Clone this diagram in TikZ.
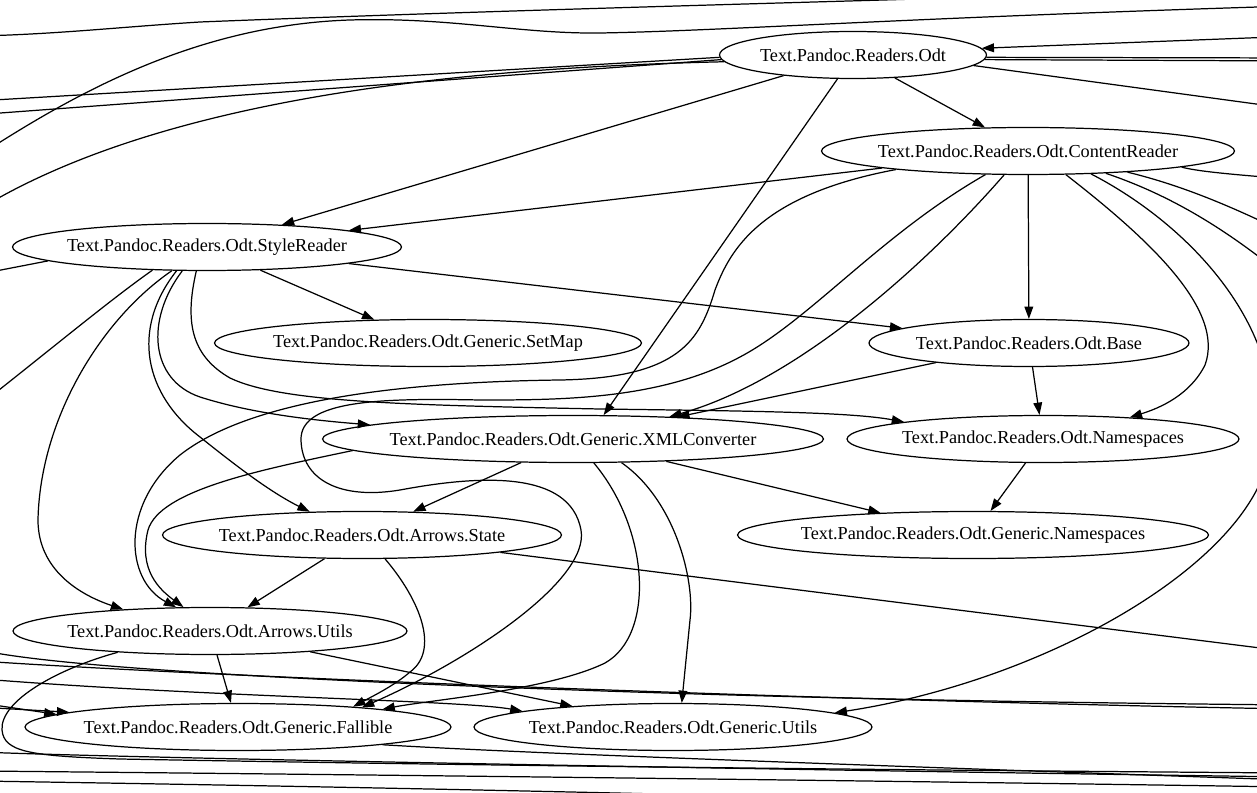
\documentclass[tikz,border=0pt]{standalone}
\usepackage{fontspec}
\setmainfont{Liberation Serif}
\usepackage{tikz}
\usetikzlibrary{arrows.meta, shapes.geometric}

\begin{document}
\begin{tikzpicture}[x=0.02cm, y=-0.02cm, line width=0.7pt,
    >={Triangle[length=7pt,width=5pt]},
    module/.style={draw, ellipse, inner sep=0pt, minimum height=0.94cm,
        minimum width=#1, font=\fontsize{10.4}{12}\selectfont},
    dep/.style={->}]
    \useasboundingbox (0,0) rectangle (1257,793);
    \clip (0,0) rectangle (1257,793);

    % Modules
    \node[module=5.34cm] (odt)  at (853,55)  {\makebox[0pt]{Text.Pandoc.Readers.Odt}};
    \node[module=8.26cm] (cr)   at (1028,151) {\makebox[0pt]{Text.Pandoc.Readers.Odt.ContentReader}};
    \node[module=7.78cm] (sr)   at (207,247) {\makebox[0pt]{Text.Pandoc.Readers.Odt.StyleReader}};
    \node[module=8.54cm] (sm)   at (428,343) {\makebox[0pt]{Text.Pandoc.Readers.Odt.Generic.SetMap}};
    \node[module=6.40cm] (base) at (1029,343) {\makebox[0pt]{Text.Pandoc.Readers.Odt.Base}};
    \node[module=10.02cm] (xml) at (573,439) {\makebox[0pt]{Text.Pandoc.Readers.Odt.Generic.XMLConverter}};
    \node[module=7.84cm] (ns)   at (1043,439) {\makebox[0pt]{Text.Pandoc.Readers.Odt.Namespaces}};
    \node[module=7.98cm] (st)   at (362,535) {\makebox[0pt]{Text.Pandoc.Readers.Odt.Arrows.State}};
    \node[module=9.42cm] (gns)  at (973,535) {\makebox[0pt]{Text.Pandoc.Readers.Odt.Generic.Namespaces}};
    \node[module=7.88cm] (au)   at (210,631) {\makebox[0pt]{Text.Pandoc.Readers.Odt.Arrows.Utils}};
    \node[module=8.52cm] (fb)   at (238,727) {\makebox[0pt]{Text.Pandoc.Readers.Odt.Generic.Fallible}};
    \node[module=7.96cm] (gu)   at (673,727) {\makebox[0pt]{Text.Pandoc.Readers.Odt.Generic.Utils}};

    % Free ends outside the frame
    \coordinate (wA) at (-40,102);  \coordinate (wB) at (-40,116);
    \coordinate (wC) at (-30,215);  \coordinate (wD) at (-30,276);
    \coordinate (wE) at (-20,405);  \coordinate (wF) at (-20,752);
    \coordinate (wG) at (-20,771);  \coordinate (wH) at (-20,781);
    \coordinate (wI) at (-20,650);  \coordinate (wJ) at (-20,661);
    \coordinate (wK) at (-30,678);  \coordinate (wL) at (-40,700);
    \coordinate (wM) at (-40,706);
    \coordinate (eIn) at (1300,36); \coordinate (eA) at (1300,58);
    \coordinate (eB) at (1300,61);  \coordinate (eC) at (1300,110);
    \coordinate (eD) at (1300,180); \coordinate (eE) at (1300,240);
    \coordinate (eF) at (1300,290); \coordinate (eG) at (1300,653);
    \coordinate (eH) at (1290,773); \coordinate (eI) at (1290,777);
    \coordinate (eJ) at (1290,780); \coordinate (eK) at (1290,787);
    \coordinate (eL) at (1290,705); \coordinate (eM) at (1290,709);
    \coordinate (sH) at (900,800);
    \coordinate (t1a) at (-20,36);  \coordinate (t1b) at (1050,-5);
    \coordinate (t2a) at (-20,155); \coordinate (t2b) at (1290,6);

    % Straight dependencies
    \draw[dep] (odt) -- (sr);
    \draw[dep] (odt) -- (cr);
    \draw[dep] (odt.-123) -- (xml.38);
    \draw[dep] (cr) -- (sr);
    \draw[dep] (cr) -- (base);
    \draw[dep] (sr) -- (sm);
    \draw[dep] (sr) -- (base);
    \draw[dep] (base) -- (xml);
    \draw[dep] (base) -- (ns);
    \draw[dep] (xml) -- (st);
    \draw[dep] (xml) -- (gns);
    \draw[dep] (ns) -- (gns);
    \draw[dep] (st) -- (au);
    \draw[dep] (au) -- (fb);
    \draw[dep] (au) -- (gu);

    % Curved dependencies
    \draw[dep] (cr.-135) .. controls (930,260) and (800,380) .. (xml.13);
    \draw[dep] (cr.-172) .. controls (760,195) and (730,250) .. (715,290)
        .. controls (700,340) and (680,378) .. (560,380)
        .. controls (400,382) and (250,400) .. (180,455)
        .. controls (120,505) and (125,580) .. (au.145);
    \draw[dep] (cr.-151) .. controls (880,235) and (810,320) .. (740,357)
        .. controls (660,400) and (560,400) .. (480,400)
        .. controls (380,398) and (300,400) .. (301,440)
        .. controls (302,480) and (340,500) .. (400,490)
        .. controls (480,475) and (570,470) .. (581,530)
        .. controls (590,580) and (470,660) .. (fb.9);
    \draw[dep] (cr.-32) .. controls (1150,240) and (1225,310) .. (1205,365)
        .. controls (1190,395) and (1160,408) .. (ns.14);
    \draw[dep] (cr.-20) .. controls (1190,225) and (1290,330) .. (1270,450)
        .. controls (1255,560) and (1050,680) .. (gu.5);
    \draw[dep] (sr.-146) .. controls (100,320) and (40,420) .. (38,520)
        .. controls (38,570) and (80,595) .. (au.166);
    \draw[dep] (sr.-142) .. controls (130,330) and (145,395) .. (200,437)
        .. controls (235,465) and (270,492) .. (st.156);
    \draw[dep] (sr.-136) .. controls (145,320) and (150,380) .. (200,397)
        .. controls (250,413) and (310,420) .. (xml.176);
    \draw[dep] (sr.-114) .. controls (185,320) and (190,355) .. (230,378)
        .. controls (280,402) and (400,405) .. (600,409)
        .. controls (750,411) and (850,412) .. (ns.173);
    \draw[dep] (xml.-177) .. controls (260,470) and (160,490) .. (148,530)
        .. controls (138,570) and (160,590) .. (au.138);
    \draw[dep] (xml.-49) .. controls (650,530) and (655,635) .. (605,663)
        .. controls (550,690) and (430,700) .. (fb.7);
    \draw[dep] (xml.-26) .. controls (675,500) and (695,580) .. (690,620)
        .. controls (687,650) and (684,680) .. (gu.70);
    \draw[dep] (st.-46) .. controls (420,600) and (440,650) .. (410,672)
        .. controls (395,685) and (375,695) .. (fb.10);

    % Edges leaving the frame
    \draw (odt.181) -- (wA);
    \draw (odt.182) -- (wB);
    \draw (odt.183) .. controls (450,68) and (150,100) .. (wC);
    \draw[dep] (eIn) -- (odt.3);
    \draw (odt.-1) -- (eA);
    \draw (odt.-2) -- (eB);
    \draw (odt.-5) -- (eC);
    \draw (cr.-6) .. controls (1200,172) and (1240,175) .. (eD);
    \draw (cr.-12) .. controls (1180,185) and (1230,205) .. (eE);
    \draw (cr.-16) .. controls (1170,195) and (1230,230) .. (eF);
    \draw (sr.-175) -- (wD);
    \draw (sr.-157) .. controls (110,300) and (50,350) .. (wE);
    \draw (st) -- (eG);
    \draw (t1a) .. controls (60,34) and (120,27) .. (200,22)
        .. controls (500,10) and (900,0) .. (t1b);
    \draw (t2a) .. controls (80,90) and (200,25) .. (350,20)
        .. controls (450,17) and (520,34) .. (600,33)
        .. controls (720,31) and (900,18) .. (t2b);
    \draw (wI) .. controls (30,661) and (150,672) .. (420,684)
        .. controls (800,700) and (1100,703) .. (eL);
    \draw (wJ) .. controls (200,676) and (800,700) .. (eM);
    \draw[dep] (wK) .. controls (200,697) and (460,700) .. (gu.174);
    \draw[dep] (wL) -- (fb.176);
    \draw[dep] (wM) -- (fb.175);
    \draw (au.-167) .. controls (60,668) and (0,700) .. (2,730)
        .. controls (4,752) and (30,756) .. (120,759)
        .. controls (500,766) and (900,770) .. (eH);
    \draw (wF) .. controls (100,757) and (600,767) .. (eI);
    \draw (fb.-7) .. controls (520,753) and (800,763) .. (eJ);
    \draw (wG) .. controls (400,775) and (900,781) .. (eK);
    \draw (wH) .. controls (300,786) and (600,792) .. (sH);
\end{tikzpicture}
\end{document}
